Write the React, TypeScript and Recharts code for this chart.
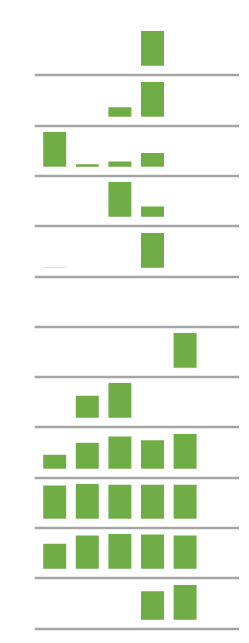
import React from "react";
import { BarChart, Bar, XAxis, YAxis } from "recharts";

const categories = ["1", "2", "3", "4", "5"];

const row1 = [null, null, null, 100, null];
const row2 = [null, null, 27, 100, null];
const row3 = [100, 7, 15, 39, null];
const row4 = [null, null, 100, 29, null];
const row5 = [0.5, null, null, 100, null];
const row6 = [null, null, null, null, null];
const row7 = [null, null, null, null, 100];
const row8 = [null, 63, 100, null, null];
const row9 = [40, 74, 92, 81, 100];
const row10 = [95, 100, 97, 97, 97];
const row11 = [71, 95, 100, 98, 95];
const row12 = [null, null, null, 81, 100];

const rows = [row1, row2, row3, row4, row5, row6, row7, row8, row9, row10, row11, row12];

const FIRST_LINE = 75.3;
const STEP = 50.3;
const CHART_H = 52;
const LINE_Y = 49;
const BAR_MAX_PX = 35;
const BASE_PX = 9.3;

function Row({ values, top }: { values: (number | null)[]; top: number }) {
  const data = categories.map((c, i) => ({ name: c, v: values[i] }));
  const nums = values.filter((v) => v !== null) as number[];
  const max = nums.length ? Math.max(...nums) : 1;
  const lo = -(max * BASE_PX) / BAR_MAX_PX;
  return (
    <div style={{ position: "absolute", left: 0, top }}>
      <BarChart
        width={249}
        height={CHART_H}
        data={data}
        margin={{ top: LINE_Y - BASE_PX - BAR_MAX_PX, right: 10, bottom: 0, left: 34.7 }}
      >
        <XAxis
          dataKey="name"
          height={CHART_H - LINE_Y}
          tick={false}
          tickLine={false}
          axisLine={{ stroke: "#A6A6A6", strokeWidth: 2.7 }}
          padding={{ left: 3.5, right: 37.8 }}
        />
        <YAxis hide domain={[lo, max]} allowDataOverflow />
        <Bar dataKey="v" fill="#70AD47" barSize={23} isAnimationActive={false} />
      </BarChart>
    </div>
  );
}

export default function App() {
  return (
    <div style={{ position: "absolute", left: 0, top: 0, width: 249, height: 643, background: "#fff" }}>
      {rows.map((r, i) => (
        <Row key={i} values={r} top={FIRST_LINE + i * STEP - LINE_Y} />
      ))}
    </div>
  );
}
